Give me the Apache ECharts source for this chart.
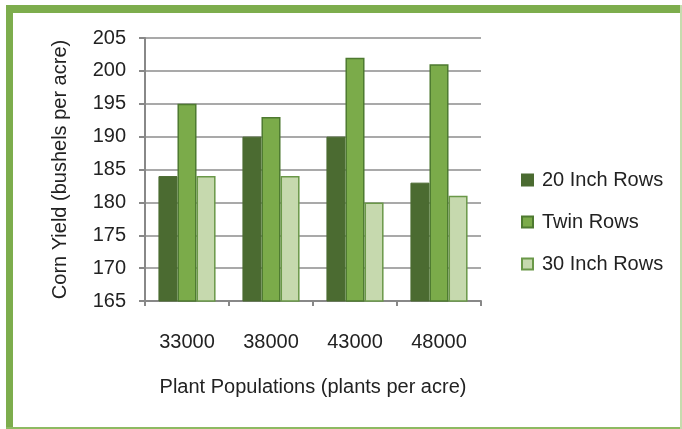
<!DOCTYPE html>
<html><head><meta charset="utf-8">
<script src="https://cdn.jsdelivr.net/npm/echarts@6/dist/echarts.min.js"></script>
<style>html,body{margin:0;padding:0;background:#fff}#c{width:682px;height:429px}</style>
</head><body><div id="c"></div>
<script>
const categories = ['33000', '38000', '43000', '48000'];
const rows20 = [184, 190, 190, 183];
const twinRows = [195, 193, 202, 201];
const rows30 = [184, 184, 180, 181];
const seriesNames = ['20 Inch Rows', 'Twin Rows', '30 Inch Rows'];

const FONT = "'Liberation Sans', Arial, sans-serif";
const FS = 20;
const chart = echarts.init(document.getElementById('c'), null, {renderer: 'canvas'});
const frameColor = '#7dad4d';
chart.setOption({
  animation: false,
  textStyle: {fontFamily: FONT},
  graphic: [
    {type: 'rect', shape: {x: 6, y: 5, width: 676, height: 8}, style: {fill: frameColor}, silent: true},
    {type: 'rect', shape: {x: 6, y: 5, width: 7, height: 424}, style: {fill: frameColor}, silent: true},
    {type: 'rect', shape: {x: 6, y: 427, width: 676, height: 2}, style: {fill: '#8dba62'}, silent: true},
    {type: 'rect', shape: {x: 680, y: 5, width: 2, height: 424}, style: {fill: '#c5dcae'}, silent: true}
  ],
  grid: {left: 145, right: 201, top: 38, bottom: 128},
  legend: {
    orient: 'vertical', left: 521, top: 170, padding: 0,
    itemWidth: 11, itemHeight: 11, itemGap: 22,
    icon: 'rect',
    textStyle: {fontFamily: FONT, fontSize: FS, color: '#222', padding: [0, 0, 0, 4]},
    data: seriesNames
  },
  xAxis: {
    type: 'category', data: categories,
    axisLine: {lineStyle: {color: '#888', width: 2}},
    axisTick: {show: true, length: 5, lineStyle: {color: '#888', width: 2}},
    axisLabel: {fontFamily: FONT, fontSize: FS, color: '#222', margin: 31},
    name: 'Plant Populations (plants per acre)',
    nameLocation: 'middle', nameGap: 76,
    nameTextStyle: {fontFamily: FONT, fontSize: FS, color: '#222'}
  },
  yAxis: {
    type: 'value', min: 165, max: 205, interval: 5,
    axisLine: {show: true, lineStyle: {color: '#888', width: 2}},
    axisTick: {show: true, length: 6, lineStyle: {color: '#888', width: 2}},
    splitLine: {lineStyle: {color: '#8c8c8c', width: 1.5}},
    axisLabel: {fontFamily: FONT, fontSize: FS, color: '#222', margin: 19},
    name: 'Corn Yield (bushels per acre)',
    nameLocation: 'middle', nameGap: 75, nameRotate: 90,
    nameTextStyle: {fontFamily: FONT, fontSize: FS, color: '#222'}
  },
  series: [
    {name: seriesNames[0], type: 'bar', data: rows20, barGap: '0%', barCategoryGap: '32%',
     itemStyle: {color: '#4b6b31', borderColor: '#4b6b31', borderWidth: 1}},
    {name: seriesNames[1], type: 'bar', data: twinRows, barGap: '0%', barCategoryGap: '32%',
     itemStyle: {color: '#7bab4a', borderColor: '#4e7a30', borderWidth: 1.5}},
    {name: seriesNames[2], type: 'bar', data: rows30, barGap: '0%', barCategoryGap: '32%',
     itemStyle: {color: '#c6d9ae', borderColor: '#6a9848', borderWidth: 1.5}}
  ]
});
</script></body></html>
